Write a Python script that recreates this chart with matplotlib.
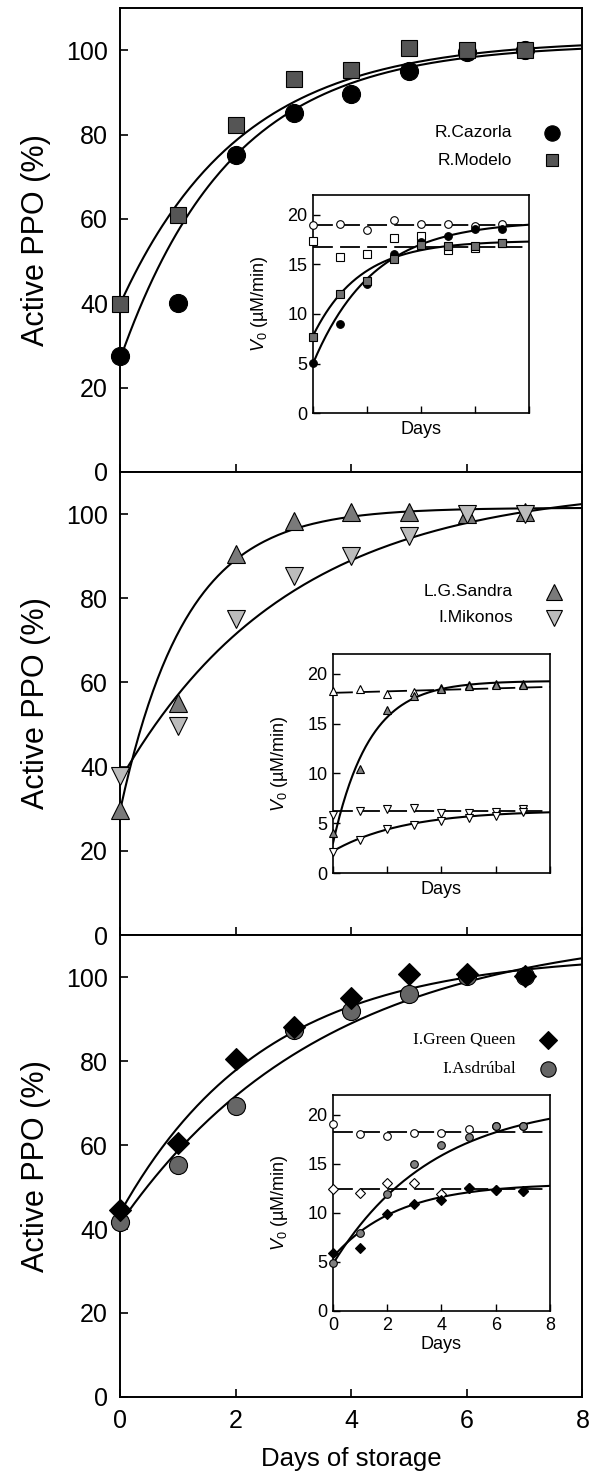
import numpy as np
import matplotlib.pyplot as plt

plt.rcParams['font.family'] = ['Liberation Sans', 'DejaVu Sans']
plt.rcParams['font.serif'] = ['Liberation Serif', 'DejaVu Serif']
plt.rcParams['mathtext.fontset'] = 'custom'
plt.rcParams['mathtext.rm'] = 'Liberation Sans'
plt.rcParams['mathtext.it'] = 'Liberation Sans:italic'

# --- data ---
days = [0, 1, 2, 3, 4, 5, 6, 7]

# main panels: active PPO (%)
cazorla = [27.4, 40.1, 75.1, 85.1, 89.7, 95.0, 99.5, 100.0]
modelo = [39.8, 61.0, 82.2, 93.1, 95.3, 100.4, 100.0, 100.0]
sandra = [29.8, 55.2, 90.5, 98.4, 100.4, 100.4, 100.0, 100.4]
mikonos = [37.7, 49.6, 75.0, 85.3, 90.0, 94.8, 100.0, 100.0]
green_queen = [44.6, 60.5, 80.6, 88.1, 95.0, 100.8, 100.8, 100.3]
asdrubal = [41.7, 55.2, 69.3, 87.5, 92.0, 96.0, 100.3, 100.3]

# fitted first-order curves: (plateau, start, rate)
fit_cazorla = (101.5, 27.0, 0.52)
fit_modelo = (102.5, 40.0, 0.48)
fit_sandra = (101.5, 30.0, 0.88)
fit_mikonos = (107.0, 37.0, 0.34)
fit_green_queen = (105.5, 44.0, 0.40)
fit_asdrubal = (112.0, 41.5, 0.28)

# insets: V0 (uM/min)
caz_v0 = [5.1, 9.0, 13.0, 16.1, 17.3, 17.9, 18.6, 18.6]
caz_v0_open = [19.0, 19.1, 18.5, 19.5, 19.1, 19.1, 18.9, 19.1]
mod_v0 = [7.7, 12.0, 13.3, 15.5, 17.0, 16.9, 16.9, 17.2]
mod_v0_open = [17.4, 15.8, 16.1, 17.7, 17.9, 16.5, 16.7, 17.2]
fit_caz_v0 = (19.4, 5.0, 0.45)
fit_mod_v0 = (17.4, 7.8, 0.575)
level_caz_v0 = (19.0, 19.0)
level_mod_v0 = (16.8, 16.8)

san_v0 = [4.0, 10.5, 16.4, 17.8, 18.5, 18.8, 18.9, 18.9]
san_v0_open = [18.3, 18.5, 18.0, 18.2, 18.6, 18.9, 19.0, 19.0]
mik_v0 = [2.1, 3.3, 4.4, 4.8, 5.2, 5.5, 5.7, 6.1]
mik_v0_open = [5.8, 6.2, 6.4, 6.5, 6.0, 6.0, 6.1, 6.4]
fit_san_v0 = (19.3, 3.0, 0.75)
fit_mik_v0 = (6.3, 2.2, 0.38)
level_san_v0 = (18.1, 18.7)
level_mik_v0 = (6.2, 6.2)

gq_v0 = [5.9, 6.4, 9.9, 10.9, 11.3, 12.5, 12.3, 12.2]
gq_v0_open = [12.4, 12.0, 13.0, 13.0, 11.9, 12.5, 12.3, 12.2]
asd_v0 = [4.9, 7.9, 11.9, 15.0, 16.9, 17.7, 18.8, 18.8]
asd_v0_open = [19.0, 18.0, 17.8, 18.1, 18.1, 18.5, 18.8, 18.8]
fit_gq_v0 = (13.0, 5.5, 0.42)
fit_asd_v0 = (21.5, 4.8, 0.27)
level_gq_v0 = (12.4, 12.4)
level_asd_v0 = (18.2, 18.2)


def rise(p, t):
    a, b, k = p
    return a - (a - b) * np.exp(-k * t)


fig = plt.figure(figsize=(5.9, 14.8), dpi=100)
main_rects = [[0.2042, 0.6811, 0.783, 0.3135],
              [0.2042, 0.3682, 0.783, 0.3129],
              [0.2042, 0.0561, 0.783, 0.3121]]
inset_rects = [[0.5305, 0.7209, 0.366, 0.1473],
               [0.5644, 0.4101, 0.3678, 0.148],
               [0.5644, 0.1142, 0.3678, 0.146]]

t = np.linspace(0, 8, 200)

# (values, fit, marker, size, face, label, zorder)
panels = [
    [(cazorla, fit_cazorla, 'o', 13, 'black', 'R.Cazorla', 3),
     (modelo, fit_modelo, 's', 11, '#555555', 'R.Modelo', 4)],
    [(sandra, fit_sandra, '^', 13, '#7a7a7a', 'L.G.Sandra', 3),
     (mikonos, fit_mikonos, 'v', 13, '#bcbcbc', 'I.Mikonos', 4)],
    [(green_queen, fit_green_queen, 'D', 11, 'black', 'I.Green Queen', 4),
     (asdrubal, fit_asdrubal, 'o', 13, '#666666', 'I.Asdrúbal', 3)],
]
legend_pos = [(0.847, 0.934, [0.731, 0.672]),
              (0.850, 0.938, [0.741, 0.685]),
              (0.856, 0.925, [0.773, 0.710])]

for i, rect in enumerate(main_rects):
    ax = fig.add_axes(rect)
    for vals, fit, mk, ms, fc, name, z in panels[i]:
        ax.plot(t, rise(fit, t), color='black', lw=1.5, zorder=2)
        ax.plot(days, vals, ls='none', marker=mk, ms=ms, mfc=fc, mec='black',
                mew=0.8, zorder=z, clip_on=False)
    xt, xm, ys = legend_pos[i]
    for (vals, fit, mk, ms, fc, name, z), yy in zip(panels[i], ys):
        if i == 2:
            ax.text(xt, yy, name, transform=ax.transAxes, ha='right',
                    va='center', fontsize=12.5, fontfamily='serif')
        else:
            ax.text(xt, yy, name, transform=ax.transAxes, ha='right',
                    va='center', fontsize=12.5)
        ax.plot([xm], [yy], transform=ax.transAxes, marker=mk, ms=ms * 0.85,
                mfc=fc, mec='black', mew=0.8, ls='none', clip_on=False)
    ax.set_xlim(0, 8)
    ax.set_ylim(0, 110)
    ax.set_yticks([0, 20, 40, 60, 80, 100])
    ax.set_xticks([0, 2, 4, 6, 8])
    ax.tick_params(direction='in', length=6, width=1.2, labelsize=18, pad=9)
    if i < 2:
        ax.tick_params(axis='x', labelbottom=False)
    else:
        ax.set_xlabel('Days of storage', fontsize=18.5, labelpad=10)
    ax.set_ylabel('Active PPO (%)', fontsize=22)
    ax.yaxis.set_label_coords(-0.15, 0.5)
    for s in ax.spines.values():
        s.set_linewidth(1.4)

insets = [
    [(caz_v0, fit_caz_v0, 'o', 'black'), (mod_v0, fit_mod_v0, 's', '#707070')],
    [(san_v0, fit_san_v0, '^', '#808080'), (mik_v0, fit_mik_v0, 'v', 'white')],
    [(gq_v0, fit_gq_v0, 'D', 'black'), (asd_v0, fit_asd_v0, 'o', '#808080')],
]
insets_open = [
    [(caz_v0_open, level_caz_v0, 'o'), (mod_v0_open, level_mod_v0, 's')],
    [(san_v0_open, level_san_v0, '^'), (mik_v0_open, level_mik_v0, 'v')],
    [(gq_v0_open, level_gq_v0, 'D'), (asd_v0_open, level_asd_v0, 'o')],
]

for i, rect in enumerate(inset_rects):
    ax = fig.add_axes(rect)
    for vals, level, mk in insets_open[i]:
        ax.plot([0, 8], level, color='black', lw=1.3, dashes=(11, 4), zorder=2)
        ax.plot(days, vals, ls='none', marker=mk, ms=5.5 if mk != 'D' else 5,
                mfc='white', mec='black', mew=0.8, zorder=3, clip_on=False)
    for vals, fit, mk, fc in insets[i]:
        ax.plot(t, rise(fit, t), color='black', lw=1.5, zorder=2)
        ax.plot(days, vals, ls='none', marker=mk, ms=5.5 if mk != 'D' else 5,
                mfc=fc, mec='black', mew=0.8, zorder=4, clip_on=False)
    ax.set_xlim(0, 8)
    ax.set_ylim(0, 22)
    ax.set_yticks([0, 5, 10, 15, 20])
    ax.set_xticks([0, 2, 4, 6, 8])
    ax.tick_params(direction='in', length=5, width=1.0, labelsize=13, pad=4)
    if i < 2:
        ax.tick_params(axis='x', labelbottom=False)
        ax.set_xlabel('Days', fontsize=13, labelpad=6)
    else:
        ax.set_xlabel('Days', fontsize=13, labelpad=2)
    ax.set_ylabel(r'$V_0$ (µM/min)', fontsize=13)
    ax.yaxis.set_label_coords(-0.2, 0.5)
    for s in ax.spines.values():
        s.set_linewidth(1.2)

fig.savefig('out.png', dpi=100)
